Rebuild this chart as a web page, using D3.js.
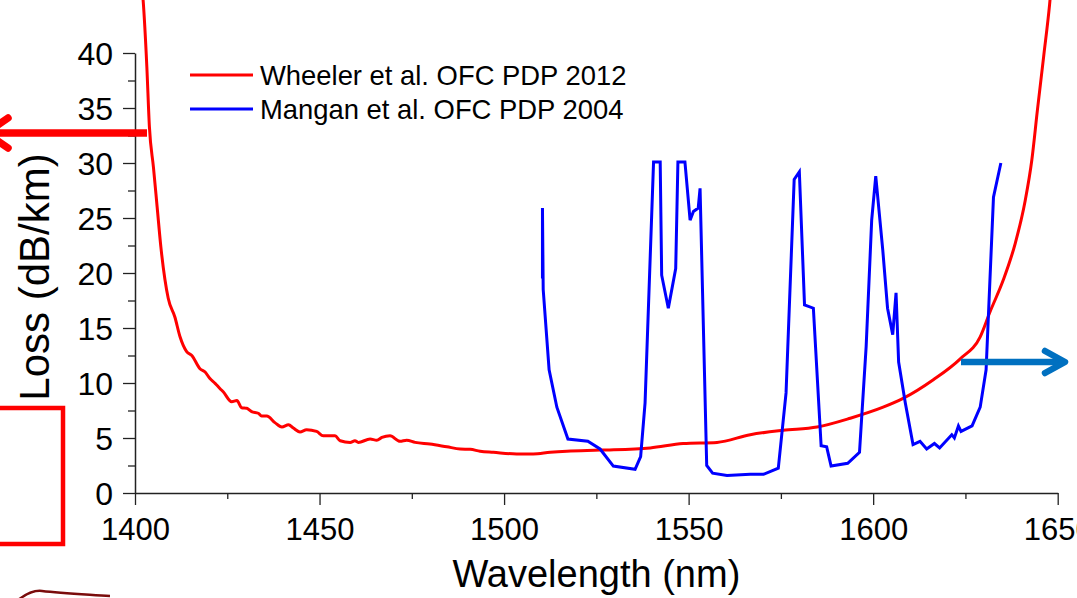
<!DOCTYPE html>
<html>
<head>
<meta charset="utf-8">
<script src="https://cdn.jsdelivr.net/npm/d3@7/dist/d3.min.js"></script>
<style>
  body { margin: 0; background: #fff; }
  svg { display: block; font-family: "Liberation Sans", Arial, sans-serif; }
</style>
</head>
<body>
<svg id="loss_svg"></svg>
<script>
// Wheeler et al. OFC PDP 2012 (red)
var wheelerWl = [1401.9, 1402.2, 1403.2, 1403.9, 1405.0, 1406.0, 1407.0, 1409.0, 1410.8, 1412.2, 1414.0, 1415.4,
  1417.6, 1419.0, 1420.3, 1421.7, 1423.0, 1423.9, 1426.2, 1427.6, 1428.9, 1430.3, 1431.6, 1433.4,
  1434.3, 1435.7, 1437.9, 1439.8, 1441.6, 1442.9, 1444.7, 1446.5, 1449.2, 1451.0, 1454.2, 1455.6,
  1458.3, 1459.6, 1460.5, 1463.7, 1465.5, 1466.9, 1469.1, 1471.8, 1473.6, 1475.9, 1479.9, 1484.5,
  1488.1, 1490.8, 1493.5, 1497.1, 1503.4, 1507.9, 1512.5, 1517.0, 1526.0, 1539.6, 1548.5, 1557.7,
  1566.7, 1575.6, 1584.8, 1593.8, 1602.7, 1608.1, 1616.3, 1623.6, 1629.0, 1631.7, 1635.3, 1638.5,
  1641.2, 1643.0, 1644.5, 1646.2, 1647.8, 1648.5];
var wheelerLoss = [46, 44.8, 38.8, 33.3, 29.6, 26.0, 22.4, 17.7, 16.0, 14.2, 12.85, 12.5,
  11.3, 11.0, 10.4, 9.97, 9.5, 9.2, 8.3, 8.4, 7.75, 7.7, 7.4, 7.25,
  7.0, 7.0, 6.4, 6.0, 6.2, 5.9, 5.55, 5.75, 5.6, 5.2, 5.2, 4.75,
  4.6, 4.75, 4.6, 4.9, 4.8, 5.05, 5.2, 4.7, 4.8, 4.6, 4.45, 4.2,
  4.0, 3.97, 3.8, 3.7, 3.55, 3.55, 3.7, 3.8, 3.9, 4.1, 4.5, 4.6,
  5.3, 5.7, 6.0, 6.8, 7.8, 8.6, 10.3, 12.2, 14.2, 16.5, 19.4, 22.7,
  26.6, 30.3, 34.8, 39.7, 44.4, 47.0];

// Mangan et al. OFC PDP 2004 (blue)
var manganWl = [1510.4, 1510.4, 1510.6, 1512.2, 1514.3, 1517.3, 1522.7, 1526.0, 1529.6, 1535.5, 1537.0,
  1538.2, 1540.5, 1542.3, 1542.7, 1544.5, 1546.5, 1547.1, 1549.0, 1550.4, 1551.3, 1552.6, 1553.1,
  1554.9, 1556.5, 1560.4, 1566.7, 1570.3, 1574.3, 1576.4, 1578.6, 1580.0, 1581.4, 1583.8, 1585.9,
  1587.4, 1588.6, 1593.1, 1596.3, 1598.1, 1599.6, 1600.7, 1602.6, 1603.9, 1605.3, 1606.2, 1606.9,
  1608.7, 1610.8, 1612.7, 1614.5, 1616.6, 1618.0, 1621.3, 1622.0, 1623.1, 1623.8, 1626.8, 1629.0,
  1630.6, 1632.6, 1634.6];
var manganLoss = [19.5, 25.9, 18.5, 11.2, 7.8, 4.9, 4.7, 4.0, 2.45, 2.15, 3.3,
  8.2, 30.1, 30.1, 19.8, 16.8, 20.4, 30.1, 30.1, 24.8, 25.6, 25.9, 27.7,
  2.5, 1.8, 1.6, 1.7, 1.7, 2.25, 9.1, 28.5, 29.2, 17.1, 16.8, 4.3,
  4.2, 2.45, 2.7, 3.7, 13.3, 24.8, 28.8, 22.1, 16.8, 14.4, 18.2, 11.9,
  8.2, 4.4, 4.7, 4.0, 4.5, 4.1, 5.3, 5.0, 6.1, 5.6, 6.1, 7.8,
  11.2, 26.9, 30.0];

var seriesNames = ["Wheeler et al. OFC PDP 2012", "Mangan et al. OFC PDP 2004"];
var seriesColors = ["#ff0000", "#0000ff"];

var xTicks = [1400, 1450, 1500, 1550, 1600, 1650];
var xMinorTicks = [1425, 1475, 1525, 1575, 1625];
var yTicks = [0, 5, 10, 15, 20, 25, 30, 35, 40];
var yMinorTicks = [2.5, 7.5, 12.5, 17.5, 22.5, 27.5, 32.5, 37.5];

var W = 1077, H = 598;
var svg = d3.select("#loss_svg").attr("width", W).attr("height", H);

var x = d3.scaleLinear().domain([1400, 1650]).range([135, 1057.7]);
var y = d3.scaleLinear().domain([0, 40]).range([493, 53]);

var axisColor = "#222";

// minor ticks
svg.append("g")
  .attr("transform", "translate(0,493)")
  .call(d3.axisBottom(x).tickValues(xMinorTicks).tickSize(6).tickSizeOuter(0).tickFormat(""))
  .call(function(g) { g.select(".domain").remove(); })
  .selectAll("line").attr("stroke", axisColor).attr("stroke-width", 1.3);
svg.append("g")
  .attr("transform", "translate(135,0)")
  .call(d3.axisLeft(y).tickValues(yMinorTicks).tickSize(7).tickSizeOuter(0).tickFormat(""))
  .call(function(g) { g.select(".domain").remove(); })
  .selectAll("line").attr("stroke", axisColor).attr("stroke-width", 1.3);

// major axes
var gx = svg.append("g")
  .attr("transform", "translate(0,493)")
  .call(d3.axisBottom(x).tickValues(xTicks).tickSize(12).tickSizeOuter(0).tickPadding(13).tickFormat(d3.format("d")));
var gy = svg.append("g")
  .attr("transform", "translate(135,0)")
  .call(d3.axisLeft(y).tickValues(yTicks).tickSize(12).tickSizeOuter(0).tickPadding(10));

[gx, gy].forEach(function(g) {
  g.select(".domain").attr("stroke", axisColor).attr("stroke-width", 1.5);
  g.selectAll(".tick line").attr("stroke", axisColor).attr("stroke-width", 1.3);
  g.selectAll(".tick text")
    .attr("fill", "#000")
    .attr("font-family", "Liberation Sans, Arial, sans-serif")
    .attr("font-size", "31px");
});
gy.selectAll(".tick text").attr("font-size", "32px").attr("dy", "0.36em");

// axis titles
svg.append("text")
  .text("Wavelength (nm)")
  .attr("x", (x.range()[0] + x.range()[1]) / 2)
  .attr("y", 587)
  .attr("text-anchor", "middle")
  .attr("font-size", "38px")
  .attr("fill", "#000");
svg.append("text")
  .text("Loss (dB/km)")
  .attr("transform", "translate(49,277) rotate(-90)")
  .attr("text-anchor", "middle")
  .attr("font-size", "42px")
  .attr("fill", "#000");

// data lines
var wheeler = d3.zip(wheelerWl, wheelerLoss);
var mangan = d3.zip(manganWl, manganLoss);

var lineGen = d3.line()
  .x(function(d) { return x(d[0]); })
  .y(function(d) { return y(d[1]); });

svg.append("path")
  .attr("d", lineGen.curve(d3.curveMonotoneX)(wheeler))
  .attr("fill", "none")
  .attr("stroke", seriesColors[0])
  .attr("stroke-width", 3)
  .attr("stroke-linejoin", "round");
svg.append("path")
  .attr("d", lineGen.curve(d3.curveLinear)(mangan))
  .attr("fill", "none")
  .attr("stroke", seriesColors[1])
  .attr("stroke-width", 3);

// legend
var legend = svg.append("g").attr("transform", "translate(190,75)");
seriesNames.forEach(function(name, i) {
  var row = legend.append("g").attr("transform", "translate(0," + (i * 34) + ")");
  row.append("line")
    .attr("x1", 0).attr("x2", 63).attr("y1", 0).attr("y2", 0)
    .attr("stroke", seriesColors[i]).attr("stroke-width", 3);
  row.append("text")
    .text(name)
    .attr("x", 70).attr("y", 10)
    .attr("font-size", "27.4px")
    .attr("fill", "#000");
});

// annotations around the chart (cropped slide decorations)
svg.append("line")
  .attr("x1", -10).attr("x2", 147).attr("y1", 133).attr("y2", 133)
  .attr("stroke", "#ff0000").attr("stroke-width", 7.5);
svg.append("path")
  .attr("d", "M8,118 L-14,133 L8,148")
  .attr("fill", "none").attr("stroke", "#ff0000").attr("stroke-width", 7.5)
  .attr("stroke-linecap", "round").attr("stroke-linejoin", "round");

svg.append("line")
  .attr("x1", 961).attr("x2", 1062).attr("y1", 362).attr("y2", 362)
  .attr("stroke", "#0070c0").attr("stroke-width", 6.5);
svg.append("path")
  .attr("d", "M1045,351 L1065,362 L1045,373")
  .attr("fill", "none").attr("stroke", "#0070c0").attr("stroke-width", 6.5)
  .attr("stroke-linecap", "round").attr("stroke-linejoin", "round");

svg.append("rect")
  .attr("x", -20).attr("y", 408).attr("width", 83).attr("height", 136)
  .attr("fill", "none").attr("stroke", "#ff0000").attr("stroke-width", 4.5);

svg.append("path")
  .attr("d", "M18,600 C26,594 34,590 42,591 C60,593 80,594 110,596")
  .attr("fill", "none").attr("stroke", "#7a0c0c").attr("stroke-width", 2.5);
</script>
</body>
</html>
